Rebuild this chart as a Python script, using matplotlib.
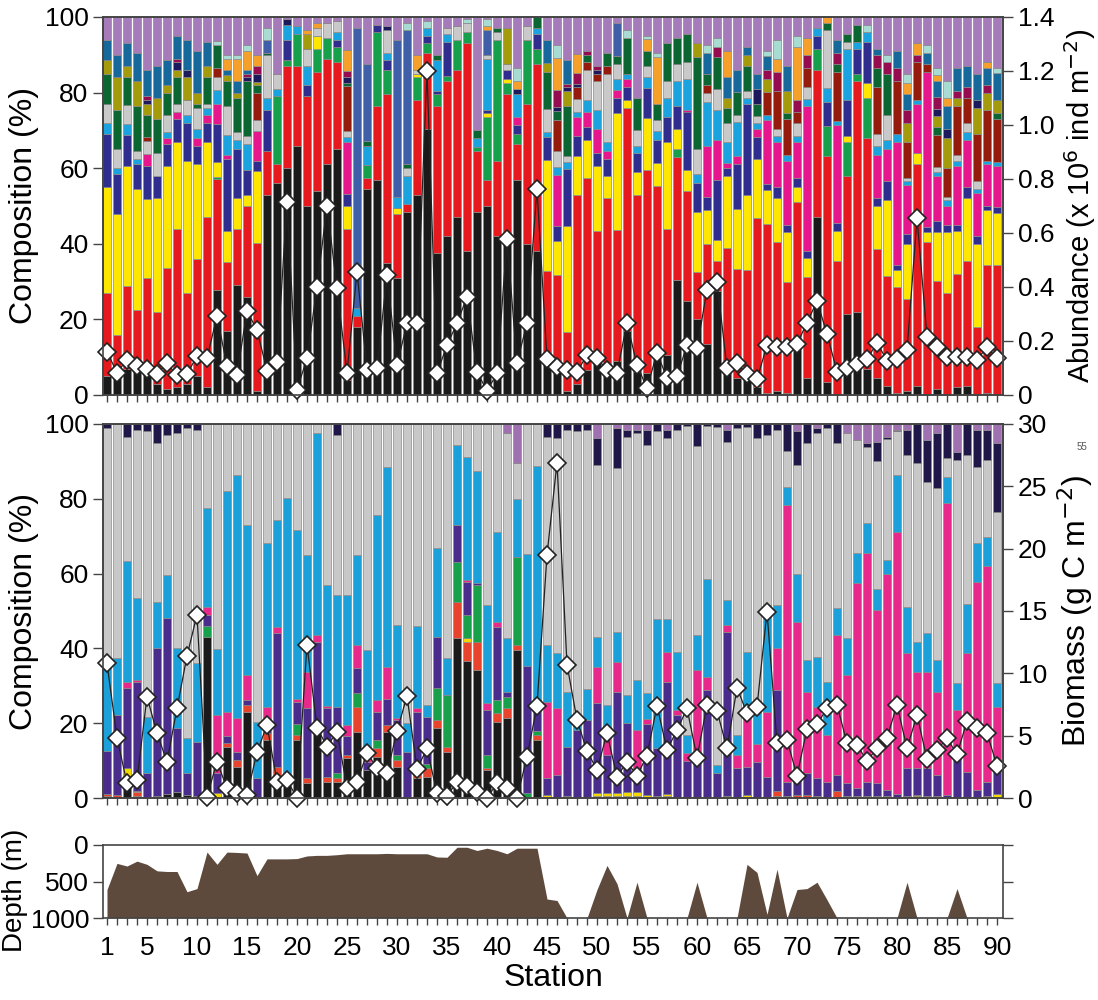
import numpy as np
import matplotlib.pyplot as plt

plt.rcParams['font.family'] = ['Liberation Sans', 'DejaVu Sans']

stations = np.arange(1, 91)

# ---- top panel: abundance composition (%) ----
ab_black = [5, 5, 7, 6, 6, 3, 1.5, 2, 3, 5,
            2, 28, 17.5, 29, 26, 1, 53, 56, 60, 66,
            50, 54, 61, 65, 4, 18, 55, 57, 35, 31,
            48.5, 53, 70.5, 37.5, 42, 47, 38, 48.5, 50, 42,
            41.5, 57, 40, 38, 9, 7, 1, 3, 6.5, 10.5,
            8.5, 9, 17, 6, 6, 10.5, 10.5, 30.5, 25, 20,
            13.5, 27.5, 7, 4.5, 4, 2, 0.5, 1, 0.5, 13.5,
            4.5, 47, 3.5, 0, 21.5, 22, 7, 4.5, 2.5, 0.5,
            1, 2.5, 0, 1.5, 0, 2, 2.5, 0, 0.5, 0]
ab_red = [22, 11, 22, 16.5, 25, 19, 32, 42, 24, 31,
          45, 29.5, 19, 15, 24, 39, 11.5, 5, 27, 21,
          29, 31.5, 28, 23, 39, 3, 3, 19.5, 44.5, 17,
          2, 25, 20, 39, 41, 39, 55, 16, 7, 20,
          38, 9.5, 37, 49.5, 23.5, 25, 16, 51, 51, 33,
          43.5, 35, 59, 47, 54, 44.5, 33.5, 32.5, 29, 12.5,
          26.5, 8, 32, 29, 29, 44.5, 45, 39.5, 29.5, 37.5,
          26.5, 39, 60, 35.5, 36.5, 61, 61, 34, 29, 28,
          24.5, 58.5, 40.5, 29, 27, 30, 33, 18, 34, 34.5]
ab_green = [0, 0, 0, 0, 0, 0, 0, 0, 0, 0,
            0, 0.5, 0, 0, 0, 0, 0, 18, 1.5, 8.5,
            0, 6, 5.5, 4, 0, 0, 3.5, 19.5, 6.5, 0,
            0, 6, 2.5, 3, 1.5, 8, 3, 1, 16.5, 32,
            3, 2.5, 17, 4, 0, 0, 0, 0, 0, 0,
            0, 0, 0, 0, 0, 0, 0, 2, 0, 0,
            0, 0, 0, 0, 0, 0, 0, 0, 0, 0,
            0, 5.5, 8, 0, 9, 2, 10.5, 0, 0, 0,
            0, 0, 0, 0, 0, 0, 0, 0, 0, 0]
ab_yellow = [28, 32, 32, 32, 21, 30, 27, 23, 35, 25,
             20, 4, 8.5, 8, 3, 19, 0, 0, 0, 0,
             0, 3.5, 0, 0, 6, 0, 0, 0, 0, 1.5,
             0, 1, 0, 0, 0, 0, 0, 0, 1, 0,
             1, 0, 0, 0, 29, 9, 28.5, 10.5, 10, 17,
             6, 31, 2, 6, 14, 6, 23, 5.5, 5.5, 16,
             9, 5.5, 19, 16, 20, 15.5, 9, 11.5, 13, 4,
             5, 0, 0, 8, 1.5, 0, 4, 11.5, 20, 4.5,
             14.5, 3, 2.5, 13, 16, 11.5, 16.5, 22, 14.5, 14]
ab_navy = [14, 10.5, 8, 6.5, 9, 6, 6, 6, 10, 5,
           5, 10, 20, 13, 6.5, 2.5, 11, 0, 5.5, 0,
           3, 0, 0, 2, 3, 0, 0, 2, 2.5, 0,
           0, 0, 2, 1, 9, 0, 0, 0, 1, 0,
           2.5, 2.5, 0, 4, 6, 4, 15.5, 5.5, 3.5, 3.5,
           4.5, 4, 3.5, 5, 8, 6, 6.5, 6, 15.5, 7.5,
           3.5, 16, 2, 12, 24, 6, 1.5, 3, 2, 2.5,
           2, 3.5, 6.5, 2, 9.5, 6.5, 11, 2, 5, 1.5,
           2.5, 0, 1.5, 3, 2, 1.5, 3, 2, 1, 1.5]
ab_magenta = [0, 0, 0, 0, 3, 0, 1.5, 2, 0, 2,
              2, 5.5, 1, 0, 0, 8, 0, 0, 0, 0,
              0, 0, 0, 0, 13.5, 0, 0, 0, 0, 0,
              0, 0, 0, 0, 0, 0, 0, 0, 0, 0,
              0, 2, 0, 0, 0, 13.5, 0, 5, 4, 6.5,
              2, 2, 2, 0, 0, 0, 0, 0, 0.5, 0,
              13.5, 10.5, 1.5, 2, 0, 2, 17, 12, 17, 9.5,
              38, 0, 0, 26, 0, 0, 0, 11.5, 8.5, 32.5,
              13, 13, 41, 12, 5, 15.5, 12.5, 11.5, 11, 11]
ab_cyan = [3, 1.5, 3, 1.5, 0, 0, 1.5, 0, 2, 2.5,
           2, 3.5, 5.5, 2.5, 7, 0, 3, 2, 4, 2,
           5, 0, 0, 2, 1.5, 2, 5, 0, 2, 3,
           7.5, 0, 2, 8, 2, 0, 0, 2.5, 13.5, 0,
           0, 6, 0, 1.5, 1.5, 2, 2, 1.5, 3, 5,
           2.5, 3, 1.5, 2, 3, 2.5, 5, 6.5, 8, 2.5,
           11.5, 8, 5.5, 9, 1.5, 1.5, 1.5, 1.5, 1.5, 1.5,
           2, 2, 3.5, 1, 13.5, 2, 2.5, 2.5, 2.5, 2,
           1, 1, 0, 1, 1.5, 1.5, 2, 1, 1, 1]
ab_gray = [5, 5, 5, 2, 3.5, 6, 4.5, 2, 4, 5.5,
           1, 3.5, 8, 2, 2, 3, 11.5, 4, 0, 0,
           4.5, 2, 4, 3, 1.5, 0, 0, 0, 6, 0,
           2, 1, 0, 0, 1.5, 3.5, 2.5, 0, 1, 2,
           1.5, 0, 3.5, 0, 6, 4.5, 1.5, 3.5, 8, 7.5,
           18, 4, 0, 4, 3, 3, 4.5, 4.5, 4.5, 6.5,
           2.5, 5.5, 5, 2, 2, 2, 0, 2, 0, 3.5,
           3, 0, 15.5, 0, 2, 0, 0, 3, 6.5, 0,
           1, 0, 0, 1.5, 1, 1.5, 2.5, 2, 0, 0]
ab_dkred = [0, 0, 0, 0, 1, 0, 0, 0, 0, 0,
            0, 2.5, 0, 0, 0, 7, 0, 0, 0, 0,
            0, 0, 0, 0, 11.5, 0, 0, 0, 0, 0,
            0, 0, 0, 0, 0, 0, 0, 0, 0, 0,
            0, 0, 0, 0, 0, 8, 0, 3, 2, 2,
            2, 0, 0, 0, 0, 0, 0, 0, 0, 0,
            2, 0, 0, 0, 0, 0, 6, 10, 9.5, 3,
            5, 0, 0, 13, 0, 0, 0, 12.5, 0, 14,
            9.5, 10, 2, 8.5, 7.5, 13, 6.5, 12.5, 13.5, 11.5]
ab_dkgreen = [8, 10.5, 7.5, 12, 6, 9, 6, 7, 0, 1,
              7, 6, 7, 9, 14.5, 2, 0.5, 0, 0, 0,
              0, 0, 0, 0, 1, 0, 1.5, 0, 0, 0,
              1, 0, 0, 1.5, 0, 0, 0, 2, 0, 1,
              0, 0, 0, 3, 9.5, 2.5, 13.5, 0, 2, 0,
              3.5, 2, 9.5, 8.5, 4, 4, 10, 7, 7.5, 24.5,
              3, 8.5, 4, 6, 6.5, 3, 0, 0, 1.5, 0,
              0, 0, 2, 2, 2, 4.5, 0, 5, 11, 0,
              0, 0, 0, 2, 0, 0, 0, 0, 0, 1.5]
ab_olive = [3.5, 8.5, 3, 6.5, 3, 5.5, 2, 2, 6, 3,
            3, 0, 1.5, 1.5, 0, 1, 0, 0, 0, 0,
            4, 0, 0, 0, 0, 0, 0, 0, 0, 0,
            0, 0, 0, 0, 0, 0, 0, 0, 0, 0,
            9.5, 0, 0, 0, 2.5, 0, 4, 0, 0, 0,
            0, 0, 0, 0, 0, 0, 0, 0, 0, 3.5,
            0, 0, 2.5, 0, 3, 0, 3.5, 0, 6, 0,
            0, 0, 0, 0, 0, 0, 0, 0, 0, 0,
            5, 0, 0, 3, 8, 2, 0, 7, 4.5, 3.5]
ab_navy2 = [0, 0, 0, 0, 1, 0, 0, 2, 2, 0,
            0, 0, 0, 0, 1, 2, 0, 0, 1.5, 0,
            0, 0, 0, 0, 1.5, 0, 0, 0, 1, 0,
            0, 0, 0, 0, 0, 0, 0, 0, 0, 0,
            0, 1.5, 0, 0, 0, 1, 1, 1, 0, 1,
            0, 0, 0, 0, 0, 0, 0, 0, 0, 0,
            0, 0, 0, 0, 0, 4, 0, 0, 0, 0,
            0, 0, 0, 0, 0, 0, 0, 0, 0, 0,
            0, 0, 0, 2, 2.5, 0, 0, 2, 0, 0]
ab_maroon = [0, 0, 0, 0, 1, 0, 0, 1, 0, 0,
             0, 0, 0, 0, 1, 2, 0, 0, 0, 0,
             0, 0, 0, 0, 1.5, 0, 0, 0, 0, 0,
             0, 0, 0, 0, 0, 0, 0, 0, 0, 0,
             0, 0, 0, 0, 0, 4.5, 1, 3, 1, 1,
             0, 0, 0, 0, 0, 0, 0, 0, 0, 0,
             0, 2.5, 0, 0, 0, 0, 2.5, 5, 0, 3,
             3.5, 0, 0, 3, 0, 0, 0, 3.5, 3, 3.5,
             3.5, 2, 0, 3, 0, 2, 3, 0, 2, 0]
ab_teal = [5.5, 6, 6, 7.5, 7, 8.5, 6.5, 6, 8, 11,
           6.5, 0, 1.5, 3, 1, 0, 0, 0, 0, 0,
           0, 0, 0, 0, 0, 0, 0, 0, 0, 0,
           0, 0, 0, 0, 0, 0, 0, 0, 0, 0,
           0, 0, 0, 0, 6, 0, 6.5, 0, 0, 0,
           0, 0, 0, 0, 0, 0, 0, 0, 0, 0,
           5.5, 0, 5.5, 6, 2, 4, 3.5, 0, 6.5, 0,
           0, 0, 0, 3.5, 0, 0, 0, 1.5, 0, 4.5,
           4, 0, 3, 4.5, 6, 6, 5.5, 7, 4.5, 7]
ab_blue = [0, 0, 0, 0, 0, 0, 0, 0, 0, 0,
           0, 0, 0, 0, 0, 0, 3.5, 0, 0, 0,
           0, 0, 0, 0, 0, 74, 20.5, 0, 0, 41.5,
           35.5, 0, 0, 0, 0, 0, 0, 0, 6.5, 0,
           0, 0, 0, 0, 0, 0, 0, 0, 0, 0,
           0, 9, 0, 0, 0, 0, 0, 0, 0, 0,
           0, 0, 0, 0, 0, 0, 0, 0, 0, 0,
           0, 0, 0, 0, 0, 0, 0, 0, 0, 0,
           0, 0, 0, 0, 0, 0, 0, 0, 0, 0]
ab_orange = [0, 0, 0, 0, 0, 0, 0, 0, 0, 0,
             0, 0, 3, 6, 5, 3, 0, 0, 0, 0,
             1, 1.5, 0, 0, 5.5, 0, 0, 0, 0, 0,
             0, 4, 0, 0, 0, 0, 0, 0, 1, 0,
             0, 2, 0, 0, 0, 8.5, 0, 5, 0, 0,
             0, 0, 0, 0, 3, 12.5, 0, 0, 0, 0,
             0, 0, 7, 0, 0, 0, 0, 3.5, 0, 14,
             4.5, 0, 1.5, 0, 0, 0, 0, 0, 0, 0,
             3, 3, 0, 1.5, 2, 0, 0, 0, 1.5, 0]
ab_palecyan = [0, 0, 0, 0, 0, 0, 0, 0, 0, 0,
               0, 1, 1, 1, 1.5, 0, 3, 0, 0, 0,
               0, 0, 0, 0, 0, 0, 0, 0, 0, 0,
               2, 0, 2, 0, 0, 0, 1, 0, 2, 0,
               0, 3.5, 0, 0, 0, 3.5, 0, 0, 0, 0,
               0, 0, 2, 0, 1, 1, 0, 0, 0, 0,
               2, 2.5, 0, 0, 0, 0, 1.5, 5, 0, 3,
               0, 0, 0, 0, 0, 0, 2, 0, 2, 0,
               2.5, 0, 2, 2, 4.5, 0, 0, 0, 0, 1.5]
ab_purple = [6, 10, 7, 9.5, 14, 13, 11.5, 5, 6, 9,
             6.5, 6.5, 10.5, 10, 7.5, 10, 3, 15, 0.5, 2.5,
             3.5, 1.5, 1.5, 1, 8.5, 3, 12.5, 2, 2.5, 6,
             1.5, 10, 1, 10, 3, 2.5, 0.5, 30, 0.5, 3,
             3, 13.5, 2.5, 0, 6, 7.5, 11.5, 10, 9, 13,
             9.5, 1.5, 3.5, 21.5, 5, 9.5, 7, 5.5, 4.5, 7,
             7.5, 5.5, 9, 14, 8, 15, 9, 6, 13, 5,
             5.5, 3, 0, 6, 4.5, 2, 2, 8.5, 10, 9,
             15, 7, 7.5, 13.5, 17, 13.5, 13, 15, 12, 13.5]

abundance = [0.16, 0.083, 0.13, 0.107, 0.095, 0.078, 0.117, 0.074, 0.078, 0.144,
             0.136, 0.293, 0.107, 0.074, 0.312, 0.24, 0.09, 0.123, 0.716, 0.02,
             0.136, 0.40, 0.70, 0.395, 0.083, 0.457, 0.093, 0.10, 0.444, 0.111,
             0.265, 0.265, 1.20, 0.08, 0.185, 0.265, 0.364, 0.086, 0.015, 0.08,
             0.577, 0.12, 0.265, 0.763, 0.132, 0.105, 0.093, 0.086, 0.148, 0.136,
             0.093, 0.083, 0.268, 0.111, 0.025, 0.157, 0.062, 0.07, 0.185, 0.173,
             0.39, 0.42, 0.099, 0.117, 0.078, 0.058, 0.185, 0.177, 0.177, 0.189,
             0.268, 0.348, 0.226, 0.086, 0.099, 0.115, 0.132, 0.194, 0.127, 0.132,
             0.167, 0.654, 0.216, 0.179, 0.142, 0.14, 0.14, 0.13, 0.177, 0.136]

# ---- middle panel: biomass composition (%) ----
bm_black = [0.5, 0.3, 3, 0.5, 0.3, 0.5, 1, 1.7, 0.8, 0.5,
            43, 0.3, 13.7, 8.4, 23, 0.4, 15.5, 4.4, 4.4, 15.5,
            3.9, 18.2, 4.4, 4.4, 10.6, 17.7, 7.5, 11, 17.7, 8.4,
            0.4, 5.3, 5.7, 18.6, 12.4, 42.7, 36.5, 34.2, 7.5, 20.4,
            21.3, 39.6, 0.3, 15.5, 0.4, 0.3, 0.2, 0, 0, 0,
            0, 0, 0, 0, 0, 0, 0, 0, 0, 0,
            0, 0, 0, 0, 0.4, 0, 0.4, 0.5, 0, 0,
            0, 0, 0, 0, 0, 0, 0, 0, 0, 0,
            0, 0, 0, 0, 0, 0, 0, 0, 0, 0]
bm_red = [0.5, 0.5, 3, 1, 0, 0, 0, 0, 0, 0,
          0, 0, 1, 1.8, 2, 0, 1.8, 4, 0, 1.3,
          1.4, 1.3, 1.3, 1, 1, 6.7, 0, 2.3, 1.8, 1.8,
          0, 1.3, 2.2, 2.3, 1.3, 9.8, 5.3, 7.6, 0.5, 2.2,
          2.7, 1.3, 0, 1.3, 0, 0, 0, 0, 0, 0.5,
          0.5, 0.5, 0.5, 0.5, 0, 0, 0.5, 0, 0, 0,
          0, 0, 0, 0, 0, 0, 0, 1.5, 0.5, 0.8,
          0.8, 0, 0, 2, 0, 0, 0, 0, 0, 0,
          0.5, 0.5, 0, 0, 0, 0, 0, 0, 0, 0]
bm_yellow = [0, 0, 2, 0.5, 0, 0, 0, 0, 0, 0,
             0, 1, 0, 0, 0, 0, 0, 0, 0, 0,
             0, 0, 0, 0, 0, 0, 0, 0, 0, 0,
             0, 0, 0, 0, 0, 0, 1, 0, 0, 0,
             0, 0, 0, 0, 0.5, 0, 0.3, 0.3, 0.3, 0.8,
             0.8, 0.8, 1, 1, 0.8, 0.5, 0.5, 0.3, 0.3, 0.3,
             0.3, 0.2, 0.5, 0.4, 0.4, 0, 0, 0, 0, 0,
             0, 0.5, 0, 0, 0.5, 0.5, 0.5, 0.5, 0.5, 0,
             0, 0.4, 0.5, 0.5, 0, 0, 0.4, 0.3, 0.5, 1]
bm_green = [0, 0, 0, 0, 0, 0, 0, 0, 0, 0,
            3, 0, 0, 0, 0, 0, 0, 0, 0, 3,
            0, 0, 0, 1.2, 0, 3.6, 0, 2.2, 0, 1.3,
            0, 0, 1.3, 8.4, 13.8, 10.7, 6.2, 15.2, 3.5, 3.6,
            3, 23.6, 1, 1, 0, 0, 0, 0, 0, 0,
            0, 0, 0, 0, 0, 0, 0, 0, 0, 0,
            0, 0, 0, 0, 0, 0, 0, 0, 0, 0,
            0, 0, 0, 0, 0, 0, 0, 0, 0, 0,
            0, 0, 0, 0, 0, 0, 0, 0, 0, 0]
bm_indigo = [11.5, 21.5, 21.5, 29, 6.3, 39.5, 47, 17, 5.8, 14.5,
             3, 5.5, 2, 2.2, 1.3, 4.9, 2, 35.6, 0, 5.8,
             18.7, 22.3, 18.3, 17.8, 5, 6.7, 2, 7.5, 7, 9.3,
             12, 16.4, 12.5, 13.8, 0, 9.8, 8.8, 0.5, 12, 19.6,
             1.4, 0, 34, 8, 4.4, 5.8, 13.2, 18, 20.5, 24,
             10.2, 27, 18.5, 6.4, 19, 13, 30, 21.8, 9.5, 9.4,
             28.5, 6.4, 44, 7.5, 7.6, 9.7, 5.3, 27, 3.9, 5.8,
             5.8, 4.8, 4.4, 4.1, 3.4, 2.1, 3.9, 3.4, 1.6, 1.2,
             7.4, 7, 7.4, 5.6, 0.8, 11.5, 6.6, 1.8, 3.9, 6.9]
bm_magenta = [0, 0, 1.5, 0.5, 0, 0, 0, 0, 0, 0,
              2, 15.5, 6.3, 9, 6.7, 0, 5, 1.8, 0, 1,
              9.8, 1.8, 0.5, 0, 3, 6.2, 1, 3.2, 8.5, 0.5,
              0, 1, 0, 0, 0, 0, 0.5, 0, 1.8, 1.3,
              0, 0, 0, 0, 20.5, 17.9, 0, 0, 0, 9.8,
              5.8, 8.1, 0, 10.3, 1.3, 0, 8, 1.3, 2.2, 24.5,
              3.5, 0, 1.8, 3.6, 14.6, 4.8, 17.3, 11.1, 73.9, 40.4,
              21.8, 19.1, 12.4, 37.5, 29, 54.8, 61, 46.4, 57.9, 70,
              30.8, 25.9, 25.9, 22.3, 78, 12, 31.7, 55.7, 57.5, 16.5]
bm_cyan = [24, 15, 32.5, 22, 15, 12.5, 11.5, 21.5, 9.4, 21,
           26.5, 17.5, 59, 65, 40, 15, 44, 28.5, 75.7, 45,
           31.2, 54, 32.5, 30, 34.8, 24.1, 29, 49.5, 53.5, 25,
           7.6, 22, 3.2, 23.7, 9.8, 21.4, 33, 29.8, 26.3, 24.1,
           14.3, 15.5, 30, 63, 15.1, 14.7, 14.7, 2.5, 8.4, 8,
           7.6, 8, 7.5, 13.4, 7.1, 34.3, 8.9, 15.6, 4.9, 9.4,
           26.3, 2.2, 6.7, 5.3, 16, 9, 28.6, 11.6, 4.9, 13,
           8.5, 13.4, 14.3, 7.1, 9.8, 8, 8, 5.7, 3.6, 15.2,
           12.5, 8, 10.2, 8.5, 7.1, 7.2, 13.3, 10.3, 8, 6.3]
bm_dknavy = [1, 0, 3.5, 1.5, 2, 5, 3, 2.5, 1.2, 1.5,
             0, 0, 0, 0, 0, 0, 0, 0, 0, 0,
             0, 0, 0, 2.9, 0, 0, 0, 0, 0, 0,
             0, 0, 0, 0, 0, 0, 0, 0, 0, 0,
             0, 0, 0, 0, 3.4, 3.8, 1.6, 2, 1.5, 7.2,
             0, 10.7, 1.8, 1, 4, 2, 2.2, 1.5, 0.5, 6,
             0.5, 0.8, 3.1, 1, 0.7, 3.8, 3, 1.6, 7.1, 9,
             5.2, 1.3, 1.2, 5, 0, 0, 0.9, 5.3, 0.5, 0.5,
             6.7, 10.3, 11.1, 14.7, 9.2, 2.2, 8.3, 9.8, 8, 18.2]
bm_purple = [0, 0, 0, 0, 0, 0, 0, 0, 0, 0,
             0, 0, 0, 0, 0, 0, 0, 0, 0, 0,
             0, 0, 0, 0, 0, 0, 0, 0, 0, 0,
             0, 0, 0, 0, 0, 0, 0, 0, 0, 0,
             2.5, 10.5, 0, 0, 0, 0, 0, 0, 0, 3.8,
             0, 1, 1.6, 1.5, 1.5, 0, 1.6, 0, 0, 0,
             0, 0, 1.6, 0, 0, 0, 0, 0, 0, 2,
             0, 1.2, 0, 0, 2.5, 4.3, 5.2, 4.7, 3.4, 1.5,
             1.6, 0, 4.3, 2.5, 0, 7.4, 0, 1.6, 1.6, 5.2]

biomass = [10.8, 4.84, 1.18, 1.44, 8.13, 5.19, 2.91, 7.19, 11.4, 14.7,
           0.1, 2.91, 0.78, 0.37, 0.24, 3.66, 5.86, 1.31, 1.44, 0,
           12.3, 5.64, 4.12, 5.32, 0.83, 1.31, 3.58, 2.43, 1.98, 5.37,
           8.18, 2.33, 3.98, 0.37, 0.19, 1.26, 0.99, 0.45, 0, 1.18,
           0.83, 0, 3.3, 7.4, 19.5, 26.9, 10.7, 6.26, 3.77, 2.25,
           5.19, 1.71, 2.91, 1.79, 3.4, 7.4, 3.85, 5.45, 7.19, 3.24,
           7.46, 6.98, 3.98, 8.85, 6.79, 7.33, 14.95, 4.39, 4.65, 1.79,
           5.53, 5.91, 7.19, 7.46, 4.39, 4.25, 2.97, 3.98, 4.84, 7.46,
           3.98, 6.66, 3.1, 3.85, 4.79, 3.5, 6.18, 5.64, 5.19, 2.59]

# ---- bottom panel: depth (m), 1000 = off scale ----
depth = [610, 252, 288, 221, 265, 354, 363, 363, 640, 597,
         97, 265, 97, 102, 110, 420, 190, 190, 190, 186,
         150, 142, 142, 133, 120, 120, 120, 120, 115, 120,
         120, 120, 120, 164, 168, 31, 31, 75, 44, 75,
         120, 44, 44, 44, 740, 760, 1000, 1000, 1000, 610,
         280, 530, 1000, 510, 1000, 1000, 1000, 1000, 1000, 510,
         1000, 1000, 1000, 1000, 265, 376, 950, 332, 1000, 610,
         597, 510, 750, 1000, 1000, 1000, 1000, 1000, 1000, 1000,
         510, 1000, 1000, 1000, 1000, 597, 1000, 1000, 1000, 1000]

top_layers = [
    (ab_black, '#1a1a1a'), (ab_red, '#e61a1e'), (ab_green, '#17a04c'),
    (ab_yellow, '#ffe600'), (ab_navy, '#2f2d8e'), (ab_magenta, '#e6168c'),
    (ab_cyan, '#1ba3e0'), (ab_gray, '#c9c9c9'), (ab_dkred, '#951b0c'),
    (ab_dkgreen, '#0b6631'), (ab_olive, '#a39a0c'), (ab_navy2, '#1c1a5c'),
    (ab_maroon, '#950c50'), (ab_teal, '#17689b'), (ab_blue, '#3f5fa9'),
    (ab_orange, '#f5a02a'), (ab_palecyan, '#a8dcd2'), (ab_purple, '#a67bb9'),
]

mid_layers = [
    (bm_black, '#1a1a1a'), (bm_red, '#e8432c'), (bm_yellow, '#f5d800'),
    (bm_green, '#19a04a'), (bm_indigo, '#4a2c8c'), (bm_magenta, '#e8298c'),
    (bm_cyan, '#1ba0da'), (None, '#c8c8c8'), (bm_dknavy, '#1f1748'),
    (bm_purple, '#a071b1'),
]

edge = '#8a8a8a'
spine_c = '#444444'
tick_fs = 19
lab_fs = 23

fig = plt.figure(figsize=(10.98, 10.0), dpi=100)
ax1 = fig.add_axes([0.0938, 0.605, 0.8197, 0.378])
ax2 = fig.add_axes([0.0938, 0.202, 0.8197, 0.374])
ax3 = fig.add_axes([0.0938, 0.082, 0.8197, 0.073])

# top stacked bars, normalised to 100 %
top_arr = np.array([np.array(v, float) for v, c in top_layers])
top_arr = top_arr / top_arr.sum(axis=0) * 100
bottom = np.zeros(len(stations))
for vals, (_, col) in zip(top_arr, top_layers):
    ax1.bar(stations, vals, bottom=bottom, width=0.78, color=col,
            edgecolor=edge, linewidth=0.5)
    bottom += vals

# middle stacked bars, grey = rest
known = sum(np.array(v, float) for v, c in mid_layers if v is not None)
gray_rest = np.clip(100 - known, 0, None)
bottom = np.zeros(len(stations))
for vals, col in mid_layers:
    v = gray_rest if vals is None else np.array(vals, float)
    ax2.bar(stations, v, bottom=bottom, width=0.78, color=col,
            edgecolor=edge, linewidth=0.5)
    bottom += v

for ax in (ax1, ax2):
    ax.set_xlim(0.6, 90.6)
    ax.set_ylim(0, 100)
    ax.set_yticks([0, 20, 40, 60, 80, 100])
    ax.set_xticks(stations)
    ax.set_xticklabels([])
    ax.tick_params(axis='x', length=5, width=1, color=spine_c)
    ax.tick_params(axis='y', length=7, width=1, color=spine_c, labelsize=tick_fs)
    ax.set_ylabel('Composition (%)', fontsize=lab_fs, labelpad=4)
    for s in ax.spines.values():
        s.set_color(spine_c)
        s.set_linewidth(1.2)

# abundance line
ax1r = ax1.twinx()
ax1r.plot(stations, abundance, color='#222222', lw=0.9, marker='D', ms=9,
          mfc='white', mec='#222222', mew=1.2, clip_on=False)
ax1r.set_ylim(0, 1.4)
ax1r.set_yticks(np.arange(0, 1.41, 0.2))
ax1r.set_yticklabels(['0', '0.2', '0.4', '0.6', '0.8', '1.0', '1.2', '1.4'])
ax1r.set_ylabel('Abundance (x 10$^{6}$ ind m$^{-2}$)', fontsize=21, labelpad=6)

# biomass line
ax2r = ax2.twinx()
ax2r.plot(stations, biomass, color='#222222', lw=0.9, marker='D', ms=9,
          mfc='white', mec='#222222', mew=1.2, clip_on=False)
ax2r.set_ylim(0, 30)
ax2r.set_yticks([0, 5, 10, 15, 20, 25, 30])
ax2r.set_ylabel('Biomass (g C m$^{-2}$)', fontsize=lab_fs, labelpad=6)

for ax in (ax1r, ax2r):
    ax.tick_params(axis='y', length=7, width=1, color=spine_c, labelsize=tick_fs)
    for s in ax.spines.values():
        s.set_color(spine_c)
        s.set_linewidth(1.2)

# depth panel
ax3.fill_between(stations, depth, 1000, color='#5e4a3c', lw=0)
ax3.set_xlim(0.6, 90.6)
ax3.set_ylim(1000, 0)
ax3.set_yticks([0, 500, 1000])
ax3.set_xticks(stations)
lab_st = [1] + list(range(5, 91, 5))
ax3.set_xticklabels([str(s) if s in lab_st else '' for s in stations])
ax3.tick_params(axis='x', length=5, width=1, color=spine_c, labelsize=tick_fs, pad=8)
ax3.tick_params(axis='y', length=7, width=1, color=spine_c, labelsize=tick_fs,
                right=True, pad=3)
ax3.set_xlabel('Station', fontsize=lab_fs, labelpad=2)
for s in ax3.spines.values():
    s.set_color(spine_c)
    s.set_linewidth(1.2)
fig.text(0.014, 0.11, 'Depth (m)', rotation=90, ha='center', va='center',
         fontsize=20)

fig.text(0.985, 0.55, '55', fontsize=7, color='#555555', ha='center')

fig.savefig('out.png', dpi=100)
